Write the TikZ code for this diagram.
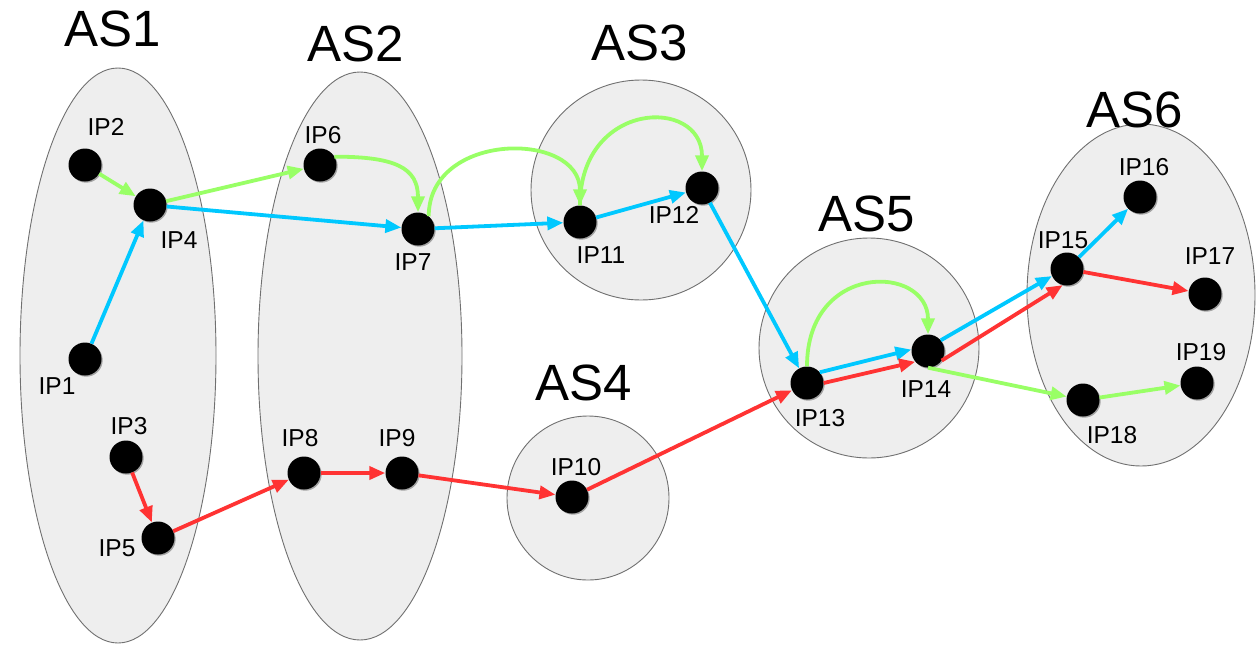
\documentclass[tikz,border=0pt]{standalone}
\usepackage{fontspec}
\setmainfont{Liberation Sans}
\usetikzlibrary{arrows.meta,shapes.geometric,shadows}
\definecolor{gfill}{HTML}{EEEEEE}
\definecolor{gline}{HTML}{707070}
\definecolor{cgreen}{HTML}{99FF66}
\definecolor{cblue}{HTML}{00C8FF}
\definecolor{cred}{HTML}{FF3333}
\tikzset{
  asreg/.style={ellipse,draw=gline,fill=gfill,line width=0.9pt,inner sep=0pt},
  ipnode/.style={circle,fill=black,minimum size=33pt,inner sep=0pt,
     drop shadow={shadow xshift=1.2pt,shadow yshift=-1.2pt,fill=black!55,opacity=0.6}},
  aslabel/.style={inner sep=0pt,font=\fontsize{51}{56}\selectfont},
  iplabel/.style={inner sep=0pt,font=\fontsize{24.5}{28}\selectfont},
  link/.style={line width=3.8pt,-{Triangle[length=16pt,width=13pt]}},
  gr/.style={link,draw=cgreen},
  bl/.style={link,draw=cblue},
  rd/.style={link,draw=cred}
}
\begin{document}
\begin{tikzpicture}[x=1pt,y=-1pt]
\useasboundingbox (0,0) rectangle (1260,648);
% AS regions
\node[asreg,minimum width=196pt,minimum height=575pt] (as1) at (118,355.5) {};
\node[asreg,minimum width=204pt,minimum height=568pt] (as2) at (360,356) {};
\node[asreg,minimum width=220pt,minimum height=220pt] (as3) at (641,190) {};
\node[asreg,minimum width=162pt,minimum height=164pt] (as4) at (588,498) {};
\node[asreg,minimum width=220pt,minimum height=220pt] (as5) at (869,348) {};
\node[asreg,minimum width=228pt,minimum height=342pt] (as6) at (1141,295) {};
% AS labels
\node[aslabel] (l-as1) at (113,29) {AS1};
\node[aslabel] (l-as2) at (356,44) {AS2};
\node[aslabel] (l-as3) at (640,43) {AS3};
\node[aslabel] (l-as4) at (584,383) {AS4};
\node[aslabel] (l-as5) at (867,214) {AS5};
\node[aslabel] (l-as6) at (1135,110) {AS6};
% IP nodes
\node[ipnode] (ip1) at (85,359) {};
\node[ipnode] (ip2) at (85,165) {};
\node[ipnode] (ip3) at (126,457) {};
\node[ipnode] (ip4) at (150,205) {};
\node[ipnode] (ip5) at (158,538) {};
\node[ipnode] (ip6) at (320,165) {};
\node[ipnode] (ip7) at (418,229) {};
\node[ipnode] (ip8) at (304,473) {};
\node[ipnode] (ip9) at (402,473) {};
\node[ipnode] (ip10) at (572,497) {};
\node[ipnode] (ip11) at (580,222) {};
\node[ipnode] (ip12) at (702,188) {};
\node[ipnode] (ip13) at (807,383) {};
\node[ipnode] (ip14) at (928,351) {};
\node[ipnode] (ip15) at (1067,269) {};
\node[ipnode] (ip16) at (1140,197) {};
\node[ipnode] (ip17) at (1205,294) {};
\node[ipnode] (ip18) at (1083,400) {};
\node[ipnode] (ip19) at (1197,383) {};
% IP labels
\node[iplabel] (t1) at (57,386) {IP1};
\node[iplabel] (t2) at (106,127) {IP2};
\node[iplabel] (t3) at (129,426) {IP3};
\node[iplabel] (t4) at (179,240) {IP4};
\node[iplabel] (t5) at (117,548) {IP5};
\node[iplabel] (t6) at (323,135) {IP6};
\node[iplabel] (t7) at (413,262) {IP7};
\node[iplabel] (t8) at (300,438) {IP8};
\node[iplabel] (t9) at (397,438) {IP9};
\node[iplabel] (t10) at (576,467) {IP10};
\node[iplabel] (t11) at (601,255) {IP11};
\node[iplabel] (t12) at (674,215) {IP12};
\node[iplabel] (t13) at (820,418) {IP13};
\node[iplabel] (t14) at (926,389) {IP14};
\node[iplabel] (t15) at (1063,240) {IP15};
\node[iplabel] (t16) at (1144,167) {IP16};
\node[iplabel] (t17) at (1210,256) {IP17};
\node[iplabel] (t18) at (1112,435) {IP18};
\node[iplabel] (t19) at (1201,352) {IP19};
% green path
\draw[gr] (ip2) -- (ip4);
\draw[gr] (ip4) -- (ip6);
\draw[gr] (ip6.30) .. controls +(60,0) and +(0,-45) .. (ip7.north);
\draw[gr] (ip7.50) .. controls +(0,-85) and +(0,-75) .. (ip11.north);
\draw[gr] (ip11.north) .. controls +(0,-105) and +(0,-75) .. (ip12.north);
\draw[gr] (ip13.north) .. controls +(0,-105) and +(0,-70) .. (ip14.north);
\draw[gr] (ip14.south) -- (ip18);
\draw[gr] (ip18) -- (ip19);
% blue path
\draw[bl] (ip1) -- (ip4);
\draw[bl] (ip4) -- (ip7);
\draw[bl] (ip7) -- (ip11);
\draw[bl] (ip11) -- (ip12);
\draw[bl] (ip12) -- (ip13);
\draw[bl] (ip13.40) -- (ip14.175);
\draw[bl] (ip14.40) -- (ip15.205);
\draw[bl] (ip15) -- (ip16);
% red path
\draw[rd] (ip3) -- (ip5);
\draw[rd] (ip5) -- (ip8);
\draw[rd] (ip8) -- (ip9);
\draw[rd] (ip9) -- (ip10);
\draw[rd] (ip10) -- (ip13);
\draw[rd] (ip13.east) -- (ip14.220);
\draw[rd] (ip14.-35) -- (ip15.255);
\draw[rd] (ip15) -- (ip17);
\end{tikzpicture}
\end{document}
